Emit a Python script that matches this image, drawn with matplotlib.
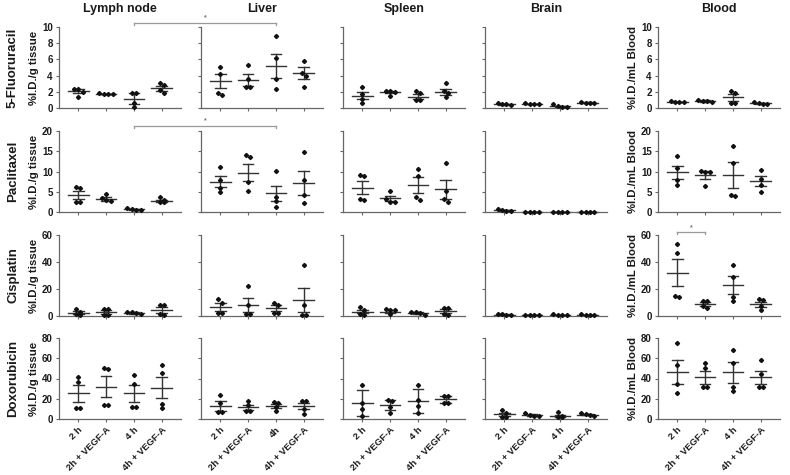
import numpy as np
import matplotlib.pyplot as plt

plt.rcParams['font.family'] = ['Liberation Sans', 'DejaVu Sans']
plt.rcParams['font.weight'] = 'bold'
plt.rcParams['axes.labelweight'] = 'bold'
plt.rcParams['axes.titleweight'] = 'bold'

organs = ["Lymph node", "Liver", "Spleen", "Brain", "Blood"]
drugs = ["5-Fluoruracil", "Paclitaxel", "Cisplatin", "Doxorubicin"]
groups = ["2 h", "2h + VEGF-A", "4 h", "4h + VEGF-A"]
liver_groups = ["2 h", "2h + VEGF-A", "4h", "4h + VEGF-A"]
y_ticks = [[0, 2, 4, 6, 8, 10], [0, 5, 10, 15, 20], [0, 20, 40, 60], [0, 20, 40, 60, 80]]
tissue_label = "%I.D./g tissue"
blood_label = "%I.D./mL Blood"

# each: organ -> group -> values
fu_pts = [
    [[2.4, 2.3, 2.0, 1.35], [1.8, 1.75, 1.7, 1.7], [1.85, 1.85, 0.6, 0.1], [3.1, 2.9, 2.2, 1.9]],
    [[5.1, 4.2, 1.85, 1.65], [5.25, 3.55, 2.6, 2.55], [8.85, 6.2, 3.6, 2.3], [5.85, 4.3, 3.9, 2.6]],
    [[2.65, 1.7, 1.15, 0.6], [2.1, 2.05, 2.0, 1.5], [2.15, 1.9, 1.0, 1.0], [3.05, 2.05, 1.85, 1.35]],
    [[0.6, 0.45, 0.45, 0.4], [0.65, 0.5, 0.5, 0.5], [0.5, 0.2, 0.1, 0.1], [0.75, 0.65, 0.6, 0.6]],
    [[0.9, 0.75, 0.75, 0.7], [1.0, 0.9, 0.85, 0.7], [2.05, 1.9, 0.65, 0.6], [0.75, 0.6, 0.55, 0.5]],
]
fu_mean = [[2.05, 1.75, 1.15, 2.45], [3.35, 3.5, 5.15, 4.3], [1.5, 2.0, 1.4, 2.0],
           [0.45, 0.5, 0.2, 0.65], [0.75, 0.85, 1.3, 0.6]]
fu_sem = [[0.25, 0.03, 0.65, 0.3], [0.9, 0.74, 1.5, 0.7], [0.45, 0.1, 0.35, 0.4],
          [0.05, 0.04, 0.1, 0.04], [0.05, 0.08, 0.45, 0.05]]

pac_pts = [
    [[6.1, 5.9, 2.4, 2.4], [4.5, 3.4, 2.85, 2.6], [0.9, 0.7, 0.6, 0.55], [3.7, 2.85, 2.45, 2.45]],
    [[11.2, 7.9, 5.9, 5.0], [14.0, 13.5, 7.5, 5.3], [10.1, 3.8, 2.6, 1.2], [14.9, 7.9, 4.2, 2.2]],
    [[9.2, 8.8, 3.3, 2.9], [5.1, 3.1, 2.4, 2.4], [10.6, 8.8, 3.7, 3.0], [12.2, 5.1, 3.1, 2.4]],
    [[0.7, 0.6, 0.3, 0.2], [0.05, 0.05, 0.05, 0.05], [0.05, 0.05, 0.05, 0.05], [0.05, 0.05, 0.05, 0.05]],
    [[13.9, 10.8, 7.8, 6.7], [10.1, 10.0, 9.9, 6.3], [16.3, 12.0, 4.2, 4.0], [10.3, 8.2, 6.6, 4.9]],
]
pac_mean = [[4.15, 3.2, 0.65, 2.75], [7.5, 9.7, 4.65, 7.2], [6.0, 3.35, 6.6, 5.6],
            [0.45, 0.05, 0.05, 0.05], [9.8, 9.1, 9.1, 7.6]]
pac_sem = [[1.05, 0.4, 0.08, 0.3], [1.4, 2.1, 1.85, 2.9], [1.6, 0.65, 1.95, 2.3],
           [0.12, 0.0, 0.0, 0.0], [1.6, 1.05, 3.2, 1.2]]

cis_pts = [
    [[5.3, 2.8, 1.5, 0.8], [5.5, 5.3, 1.0, 0.9], [3.0, 3.0, 2.0, 1.2], [8.2, 7.8, 1.2, 0.8]],
    [[12.5, 10.0, 2.5, 2.0], [22.0, 8.0, 1.5, 1.5], [10.0, 8.0, 2.0, 2.0], [38.0, 8.0, 1.0, 1.0]],
    [[6.7, 4.2, 1.7, 0.7], [5.2, 4.2, 4.2, 1.7], [3.2, 3.2, 2.5, 0.7], [6.2, 5.7, 1.2, 0.7]],
    [[1.3, 1.2, 0.8, 0.6], [0.8, 0.6, 0.5, 0.4], [1.4, 0.9, 0.7, 0.6], [1.2, 0.8, 0.6, 0.6]],
    [[53.0, 46.5, 14.5, 14.0], [11.2, 11.2, 7.5, 6.2], [37.5, 29.0, 14.0, 11.0], [12.5, 12.0, 7.5, 4.2]],
]
cis_mean = [[2.5, 3.2, 2.3, 4.5], [6.75, 8.3, 5.8, 12.0], [3.3, 3.3, 2.4, 3.5],
            [1.0, 0.6, 0.9, 0.8], [32.2, 8.8, 23.0, 8.8]]
cis_sem = [[1.2, 1.4, 0.45, 2.0], [2.8, 5.0, 2.3, 9.0], [1.3, 0.8, 0.6, 1.4],
           [0.15, 0.08, 0.18, 0.14], [10.2, 1.3, 6.5, 1.9]]

dox_pts = [
    [[41.5, 37.0, 11.0, 11.0], [50.0, 49.0, 13.7, 13.7], [43.5, 34.3, 12.0, 12.0], [53.0, 45.0, 15.0, 11.0]],
    [[24.0, 16.0, 7.0, 6.5], [18.0, 14.0, 7.5, 7.5], [16.3, 15.7, 12.0, 8.2], [18.0, 18.0, 9.8, 4.9]],
    [[34.0, 16.0, 10.0, 3.0], [18.5, 18.0, 12.0, 6.0], [34.0, 19.0, 13.0, 6.0], [23.2, 22.5, 16.0, 16.0]],
    [[8.8, 5.5, 2.3, 2.0], [5.5, 4.0, 3.0, 2.5], [6.5, 3.0, 2.0, 1.5], [6.0, 4.5, 3.5, 3.0]],
    [[75.0, 53.5, 34.5, 25.5], [55.0, 50.0, 31.4, 31.4], [67.8, 55.2, 32.0, 27.8], [58.5, 44.6, 31.4, 31.4]],
]
dox_mean = [[25.2, 31.7, 25.3, 31.0], [13.1, 11.4, 12.7, 13.1], [15.7, 13.4, 18.0, 19.3],
            [4.9, 4.0, 3.0, 4.3], [46.3, 41.3, 46.0, 41.0]]
dox_sem = [[8.7, 10.3, 8.5, 10.6], [5.0, 2.7, 1.8, 3.0], [12.5, 5.0, 11.6, 3.2],
           [1.5, 0.6, 1.0, 0.6], [11.6, 6.5, 10.0, 6.6]]

all_pts = [fu_pts, pac_pts, cis_pts, dox_pts]
all_mean = [fu_mean, pac_mean, cis_mean, dox_mean]
all_sem = [fu_sem, pac_sem, cis_sem, dox_sem]

W, H = 790, 475
fig = plt.figure(figsize=(W / 100, H / 100), dpi=100)

col_x = [59, 201, 343, 485, 658]
row_y = [27, 131, 235, 338]
pw, ph = 122, 81
spine_c = '#666666'
line_c = '#333333'
text_c = '#1a1a1a'


def spread(vals, ymax, x0):
    # put points with nearly equal values side by side
    vals = sorted(vals, reverse=True)
    xs = []
    i = 0
    close = ymax * 0.045
    while i < len(vals):
        j = i
        while j + 1 < len(vals) and vals[i] - vals[j + 1] < close:
            j += 1
        n = j - i + 1
        xs.extend(x0 + (np.arange(n) - (n - 1) / 2) * 0.16)
        i = j + 1
    return xs, vals


axes = []
for r in range(4):
    row_axes = []
    ymax = y_ticks[r][-1]
    for c in range(5):
        ax = fig.add_axes([col_x[c] / W, 1 - (row_y[r] + ph) / H, pw / W, ph / H])
        row_axes.append(ax)
        for g in range(4):
            x0 = g + 1
            xs, ys = spread(all_pts[r][c][g], ymax, x0)
            ax.plot(xs, ys, 'D', color='#111111', ms=2.1, clip_on=False, zorder=3)
            m = all_mean[r][c][g]
            s = all_sem[r][c][g]
            ax.plot([x0 - 0.37, x0 + 0.37], [m, m], color=line_c, lw=1.0, clip_on=False)
            ax.plot([x0, x0], [m - s, m + s], color=line_c, lw=1.0, clip_on=False)
            for yy in (m - s, m + s):
                ax.plot([x0 - 0.19, x0 + 0.19], [yy, yy], color=line_c, lw=1.0, clip_on=False)
        ax.set_xlim(0.31, 4.69)
        ax.set_ylim(0, ymax)
        ax.set_yticks(y_ticks[r])
        ax.set_xticks([1, 2, 3, 4])
        for side in ('top', 'right'):
            ax.spines[side].set_visible(False)
        for side in ('left', 'bottom'):
            ax.spines[side].set_color(spine_c)
            ax.spines[side].set_linewidth(0.9)
        ax.tick_params(colors=spine_c, length=2.5, width=0.8, pad=2, labelsize=7, labelcolor=text_c)
        if c in (1, 2, 3):
            ax.set_yticklabels([])
        if r < 3:
            ax.set_xticklabels([])
        else:
            labels = liver_groups if c == 1 else groups
            ax.set_xticklabels(labels, rotation=45, ha='right', rotation_mode='anchor', fontsize=6.8)
        for lab in ax.get_xticklabels() + ax.get_yticklabels():
            lab.set_fontweight('bold')
        if r == 0:
            ax.set_title(organs[c], fontsize=9, fontweight='bold', pad=11, color=text_c)
        if c == 0:
            ax.set_ylabel(tissue_label, fontsize=8.2, fontweight='bold', labelpad=2, color=text_c)
        if c == 4:
            ax.set_ylabel(blood_label, fontsize=8.2, fontweight='bold', labelpad=2, color=text_c)
    axes.append(row_axes)
    fig.text(13 / W, 1 - (row_y[r] + ph / 2) / H, drugs[r], rotation=90, ha='center', va='center',
             fontsize=9.5, fontweight='bold', color=text_c)


def bracket(ax_a, xa, ax_b, xb, y_px):
    inv = fig.transFigure.inverted()
    x1 = inv.transform(ax_a.transData.transform((xa, 0)))[0]
    x2 = inv.transform(ax_b.transData.transform((xb, 0)))[0]
    yf = 1 - y_px / H
    tick = 2.5 / H
    fig.add_artist(plt.Line2D([x1, x2], [yf, yf], color='#999999', lw=0.9, transform=fig.transFigure))
    for xx in (x1, x2):
        fig.add_artist(plt.Line2D([xx, xx], [yf, yf - tick], color='#999999', lw=0.9, transform=fig.transFigure))
    fig.text((x1 + x2) / 2, yf + 1 / H, '*', ha='center', va='bottom', fontsize=5, color='#777777')


bracket(axes[0][0], 3, axes[0][1], 3, 22.5)
bracket(axes[1][0], 3, axes[1][1], 3, 125.5)
bracket(axes[2][4], 1, axes[2][4], 2, 232)

fig.savefig('out.png', dpi=100)
